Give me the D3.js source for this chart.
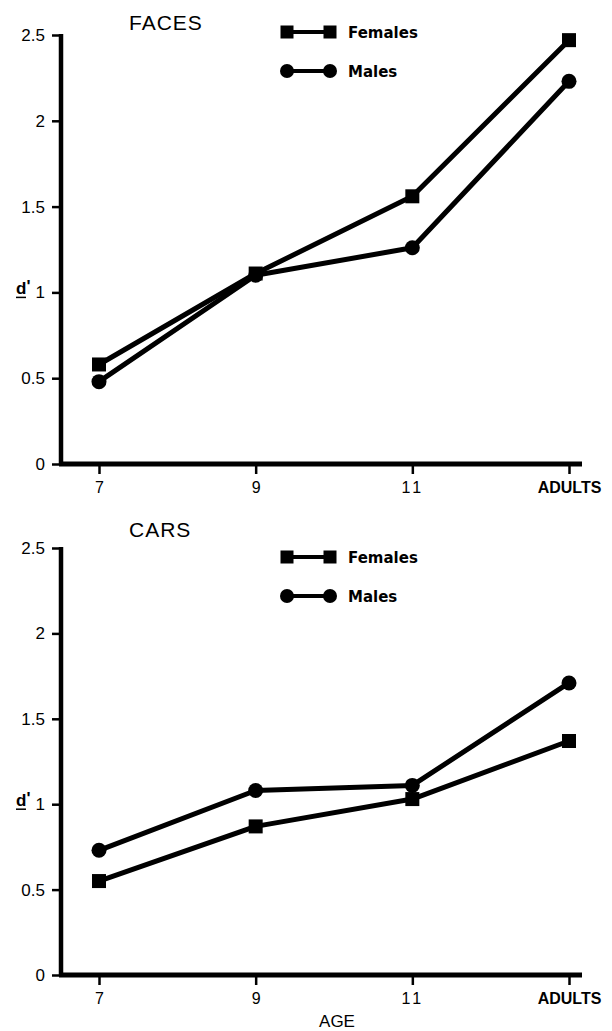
<!DOCTYPE html>
<html>
<head>
<meta charset="utf-8">
<script src="https://cdn.jsdelivr.net/npm/d3@7"></script>
<style>
  body { margin: 0; background: #fff; }
  svg { display: block; }
</style>
</head>
<body>
<div id="chart"></div>
<script>
// data
const ages = ["7", "9", "11", "ADULTS"];
const yTicks = [0, 0.5, 1, 1.5, 2, 2.5];
const facesFemales = [0.58, 1.11, 1.56, 2.47];
const facesMales = [0.48, 1.10, 1.26, 2.23];
const carsFemales = [0.55, 0.87, 1.03, 1.37];
const carsMales = [0.73, 1.08, 1.11, 1.71];
const seriesNames = ["Females", "Males"];

const width = 612, height = 1031;
const svg = d3.select("#chart")
              .append("svg")
              .attr("width", width)
              .attr("height", height);

const panels = [
    {title: "FACES", females: facesFemales, males: facesMales, top: 35, bottom: 464, titleY: 30, legendY: 32},
    {title: "CARS", females: carsFemales, males: carsMales, top: 548, bottom: 975, titleY: 537, legendY: 557}
];

const x = d3.scalePoint()
            .domain(ages)
            .range([99, 569]);

panels.forEach(p => drawPanel(p));

// axis title shared by both panels
svg.append("text")
   .attr("x", 337)
   .attr("y", 1027)
   .attr("text-anchor", "middle")
   .style("font-family", "Liberation Sans, Arial, sans-serif")
   .style("font-size", "17px")
   .text("AGE");

function drawPanel(p) {
    const y = d3.scaleLinear()
                .domain([0, 2.5])
                .range([p.bottom, p.top]);
    const g = svg.append("g");

    // y axis
    const yAxis = g.append("g")
                   .attr("transform", "translate(61,0)")
                   .attr("font-size", null)
                   .call(d3.axisLeft(y)
                           .tickValues(yTicks)
                           .tickFormat(d => d3.format("")(d))
                           .tickSize(9)
                           .tickSizeOuter(0)
                           .tickPadding(7));
    yAxis.select(".domain").remove();
    yAxis.selectAll(".tick line").attr("stroke", "#000").attr("stroke-width", 2.5);
    yAxis.selectAll(".tick text")
         .attr("font-size", 17)
         .attr("font-family", "Liberation Sans, Arial, sans-serif")
         .attr("fill", "#000");
    g.append("line")
     .attr("x1", 61).attr("x2", 61)
     .attr("y1", y(2.5) - 1).attr("y2", y(0))
     .attr("stroke", "#000")
     .attr("stroke-width", 4.5);

    // x axis
    const xAxis = g.append("g")
                   .attr("transform", "translate(0," + y(0) + ")")
                   .call(d3.axisBottom(x)
                           .tickSize(10)
                           .tickSizeOuter(0)
                           .tickPadding(8));
    xAxis.select(".domain").remove();
    xAxis.selectAll(".tick line").attr("stroke", "#000").attr("stroke-width", 2.5);
    xAxis.selectAll(".tick text")
         .attr("font-size", 16)
         .attr("font-family", "Liberation Sans, Arial, sans-serif")
         .attr("font-weight", d => d == "ADULTS" ? "bold" : "normal")
         .style("letter-spacing", d => d == "11" ? "3px" : "0px")
         .attr("fill", "#000");
    g.append("line")
     .attr("x1", 59).attr("x2", 582)
     .attr("y1", y(0)).attr("y2", y(0))
     .attr("stroke", "#000")
     .attr("stroke-width", 5);

    // d' label
    const dl = g.append("text")
                .attr("x", 16)
                .attr("y", y(1) + 2)
                .style("font-family", "Liberation Sans, Arial, sans-serif")
                .style("font-size", "17px")
                .style("font-weight", "bold");
    dl.append("tspan").text("d");
    dl.append("tspan").attr("dy", -2).text("'");
    g.append("line")
     .attr("x1", 16).attr("x2", 26)
     .attr("y1", y(1) + 5).attr("y2", y(1) + 5)
     .attr("stroke", "#000")
     .attr("stroke-width", 1.5);

    // title
    g.append("text")
     .attr("x", 129)
     .attr("y", p.titleY)
     .style("font-family", "Liberation Sans, Arial, sans-serif")
     .style("font-size", "21px")
     .style("letter-spacing", "1px")
     .text(p.title);

    const line = d3.line()
                   .x((d, i) => x(ages[i]))
                   .y(d => y(d));

    // lines
    [p.females, p.males].forEach(vals => {
        g.append("path")
         .datum(vals)
         .attr("d", line)
         .attr("fill", "none")
         .attr("stroke", "#000")
         .attr("stroke-width", 5)
         .attr("stroke-linejoin", "round");
    });

    // markers
    g.selectAll(".fem")
     .data(p.females)
     .enter()
     .append("rect")
     .attr("class", "fem")
     .attr("x", (d, i) => x(ages[i]) - 7)
     .attr("y", d => y(d) - 7)
     .attr("width", 14)
     .attr("height", 14)
     .attr("fill", "#000");
    g.selectAll(".mal")
     .data(p.males)
     .enter()
     .append("circle")
     .attr("class", "mal")
     .attr("cx", (d, i) => x(ages[i]))
     .attr("cy", d => y(d))
     .attr("r", 7.5)
     .attr("fill", "#000");

    // legend
    const leg = g.append("g")
                 .attr("transform", "translate(0," + p.legendY + ")");
    seriesNames.forEach((name, i) => {
        const ly = i * 39;
        leg.append("line")
           .attr("x1", 287).attr("x2", 330)
           .attr("y1", ly).attr("y2", ly)
           .attr("stroke", "#000")
           .attr("stroke-width", 4);
        [287, 330].forEach(cx => {
            if (name == "Females") {
                leg.append("rect")
                   .attr("x", cx - 6.5).attr("y", ly - 6.5)
                   .attr("width", 13).attr("height", 13)
                   .attr("fill", "#000");
            } else {
                leg.append("circle")
                   .attr("cx", cx).attr("cy", ly)
                   .attr("r", 7)
                   .attr("fill", "#000");
            }
        });
        leg.append("text")
           .attr("x", 348)
           .attr("y", ly + 6)
           .style("font-family", "DejaVu Sans, sans-serif")
           .style("font-size", "15px")
           .style("font-weight", "bold")
           .text(name);
    });
}
</script>
</body>
</html>
